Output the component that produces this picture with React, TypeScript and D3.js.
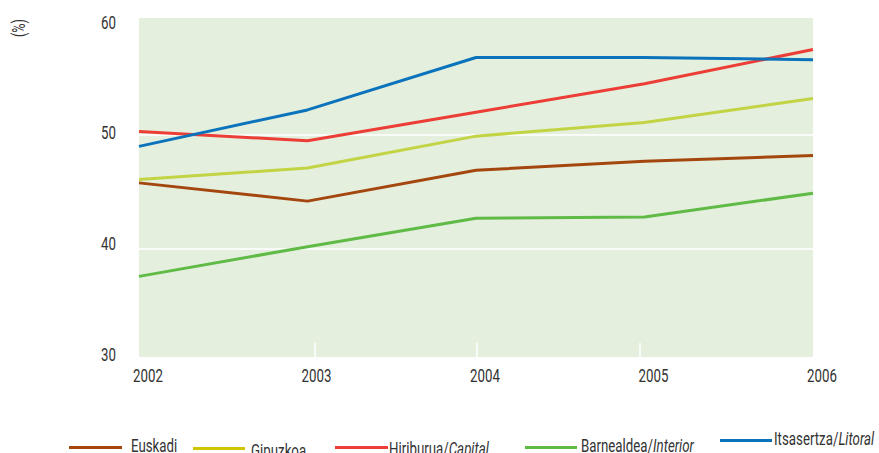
import React from "react";
import * as d3 from "d3";

const years = [2002, 2003, 2004, 2005, 2006];
const yTicks = [30, 40, 50, 60];
const gridValues = [40, 50];

const euskadi = [45.8, 44.2, 46.9, 47.7, 48.2];
const gipuzkoa = [46.1, 47.1, 49.9, 51.1, 53.2];
const capital = [50.3, 49.5, 52.0, 54.5, 57.5];
const interior = [37.6, 40.2, 42.7, 42.8, 44.9];
const litoral = [49.0, 52.2, 56.8, 56.8, 56.6];

const seriesNames = ["Euskadi", "Gipuzkoa", "Hiriburua/", "Barnealdea/", "Itsasertza/"];
const seriesItalic = ["", "", "Capital", "Interior", "Litoral"];

const W = 879;
const H = 453;
const FONT = "Roboto, 'Liberation Sans', sans-serif";
const SX = 0.7;

function CText(props: {
  x: number;
  y: number;
  anchor?: string;
  size: number;
  rotate?: number;
  baseline?: string;
  children: React.ReactNode;
}) {
  const { x, y, anchor = "start", size, rotate = 0, baseline, children } = props;
  return (
    <text
      transform={`translate(${x},${y}) rotate(${rotate}) scale(${SX},1)`}
      textAnchor={anchor}
      dominantBaseline={baseline}
      fontSize={size}
      fill="#333"
    >
      {children}
    </text>
  );
}

export default function App() {
  const x = d3.scaleLinear().domain([2002, 2006]).range([139, 813]);
  const y = d3.scaleLinear().domain([30, 60]).range([363, 21]);
  const yLabel = d3.scaleLinear().domain([30, 60]).range([353.5, 21.5]);

  const series = [
    { values: euskadi, color: "#a4470f", legend: "#a4470f" },
    { values: gipuzkoa, color: "#c2d443", legend: "#d1c400" },
    { values: capital, color: "#ec3e36", legend: "#ec3e36" },
    { values: interior, color: "#5fba46", legend: "#5fba46" },
    { values: litoral, color: "#0b73bc", legend: "#0b73bc" },
  ];

  const line = d3
    .line<number>()
    .x((_, i) => x(years[i]))
    .y((d) => y(d));

  const legendItems = [
    { x1: 69, x2: 122, ly: 447.5, tx: 131, ty: 452 },
    { x1: 193, x2: 245, ly: 448.5, tx: 251, ty: 457 },
    { x1: 335, x2: 388, ly: 447.5, tx: 389, ty: 455 },
    { x1: 525, x2: 577, ly: 447.5, tx: 581, ty: 452 },
    { x1: 720, x2: 772, ly: 440.5, tx: 774, ty: 445 },
  ];

  const tickX = [315, 477, 640];

  return (
    <svg
      width={W}
      height={H}
      style={{ position: "absolute", left: 0, top: 0, background: "#fff" }}
      fontFamily={FONT}
    >
      <rect x={139} y={18} width={813 - 139} height={357 - 18} fill="#e4efde" />
      {gridValues.map((v) => (
        <line key={v} x1={139} x2={813} y1={y(v)} y2={y(v)} stroke="#fff" strokeWidth={1.5} />
      ))}
      {tickX.map((tx) => (
        <line key={tx} x1={tx} x2={tx} y1={343} y2={357} stroke="#fff" strokeWidth={1.5} />
      ))}
      {series.map((s, i) => (
        <path
          key={i}
          d={line(s.values) || ""}
          fill="none"
          stroke={s.color}
          strokeWidth={3}
          strokeLinejoin="round"
        />
      ))}
      {yTicks.map((v) => (
        <CText key={v} x={116} y={yLabel(v) + 7} anchor="end" size={19}>
          {v}
        </CText>
      ))}
      {years.map((yr) => (
        <CText key={yr} x={x(yr) + 9} y={382} anchor="middle" size={19}>
          {yr}
        </CText>
      ))}
      <CText x={25} y={28} anchor="middle" size={18} rotate={-90}>
        (%)
      </CText>
      {legendItems.map((l, i) => (
        <g key={i}>
          <line x1={l.x1} x2={l.x2} y1={l.ly} y2={l.ly} stroke={series[i].legend} strokeWidth={3} />
          <CText x={l.tx} y={l.ty} size={19}>
            {seriesNames[i]}
            {seriesItalic[i] && <tspan fontStyle="italic">{seriesItalic[i]}</tspan>}
          </CText>
        </g>
      ))}
    </svg>
  );
}
